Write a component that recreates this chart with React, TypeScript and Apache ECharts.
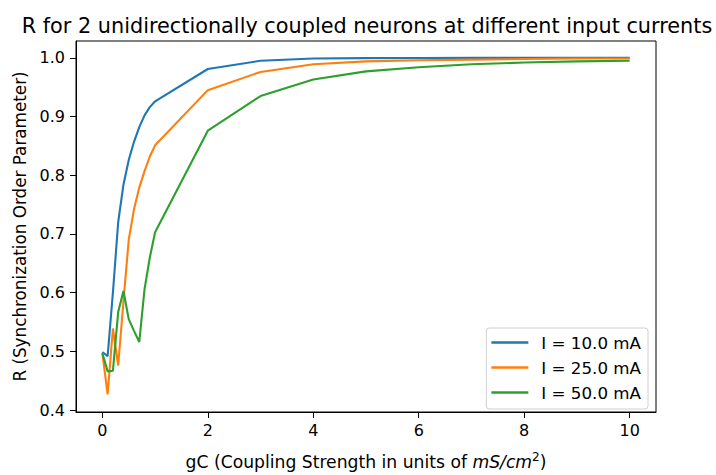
import React, { useEffect, useRef } from "react";
import * as echarts from "echarts";

const gC = [0, 0.1, 0.2, 0.3, 0.4, 0.5, 0.6, 0.7, 0.8, 0.9, 1.0, 2, 3, 4, 5, 6, 7, 8, 9, 10];
const r10 = [0.499, 0.492, 0.6, 0.72, 0.784, 0.826, 0.857, 0.882, 0.902, 0.916, 0.926, 0.981, 0.995, 0.999, 0.9995, 0.9998, 0.9999, 1.0, 1.0, 1.0];
const r25 = [0.497, 0.427, 0.539, 0.476, 0.585, 0.69, 0.742, 0.779, 0.807, 0.832, 0.851, 0.945, 0.976, 0.989, 0.994, 0.996, 0.997, 0.998, 0.999, 0.999];
const r50 = [0.497, 0.466, 0.467, 0.567, 0.603, 0.555, 0.535, 0.516, 0.606, 0.66, 0.703, 0.876, 0.935, 0.963, 0.977, 0.984, 0.989, 0.992, 0.994, 0.995];
const seriesNames = ["I = 10.0 mA", "I = 25.0 mA", "I = 50.0 mA"];
const colors = ["#1f77b4", "#ff7f0e", "#2ca02c"];
const xTicks = [0, 2, 4, 6, 8, 10];
const yTicks = [0.4, 0.5, 0.6, 0.7, 0.8, 0.9, 1.0];

const FONT = "DejaVu Sans";

export default function App() {
  const ref = useRef<HTMLDivElement>(null);
  useEffect(() => {
    if (!ref.current) return;
    const chart = echarts.init(ref.current, null, { renderer: "svg" });
    const seriesData = [r10, r25, r50];
    chart.setOption({
      animation: false,
      backgroundColor: "#ffffff",
      textStyle: { fontFamily: FONT, color: "#000" },
      title: {
        text: "R for 2 unidirectionally coupled neurons at different input currents",
        left: 362,
        textAlign: "center",
        top: 10,
        textStyle: { fontFamily: FONT, fontSize: 20.8, fontWeight: "normal", color: "#000" },
      },
      grid: {
        left: 76,
        right: 60,
        top: 41,
        bottom: 57,
        show: true,
        borderColor: "#000",
        borderWidth: 1,
        backgroundColor: "transparent",
      },
      legend: {
        orient: "vertical",
        right: 68,
        bottom: 66,
        data: seriesNames,
        icon: "rect",
        itemWidth: 37,
        itemHeight: 2.5,
        itemGap: 8,
        padding: [6, 7, 8, 5],
        backgroundColor: "rgba(255,255,255,0.8)",
        borderColor: "#d0d0d0",
        borderWidth: 1,
        borderRadius: 3,
        textStyle: { fontFamily: FONT, fontSize: 16.7, color: "#000", padding: [0, 0, 0, 8] },
      },
      xAxis: {
        type: "value",
        min: -0.5,
        max: 10.5,
        splitLine: { show: false },
        axisLine: { show: true, onZero: false, lineStyle: { color: "#000", width: 1 } },
        axisTick: { show: true, customValues: xTicks, length: 6, lineStyle: { color: "#000" } },
        axisLabel: {
          customValues: xTicks,
          fontFamily: FONT,
          fontSize: 16,
          color: "#000",
          margin: 10,
        },
        name: "gC (Coupling Strength in units of {i|mS/cm}{s|2})",
        nameLocation: "middle",
        nameGap: 39,
        nameTextStyle: {
          fontFamily: FONT,
          fontSize: 17.2,
          color: "#000",
          rich: {
            i: { fontFamily: FONT, fontSize: 17.2, fontStyle: "italic", color: "#000" },
            s: { fontFamily: FONT, fontSize: 12, color: "#000", verticalAlign: "top", padding: [0, 0, 9, 0] },
          },
        },
      },
      yAxis: {
        type: "value",
        min: 0.3968,
        max: 1.0287,
        splitLine: { show: false },
        axisLine: { show: true, onZero: false, lineStyle: { color: "#000", width: 1 } },
        axisTick: { show: true, customValues: yTicks, length: 6, lineStyle: { color: "#000" } },
        axisLabel: {
          customValues: yTicks,
          fontFamily: FONT,
          fontSize: 16,
          color: "#000",
          margin: 11,
          formatter: (v: number) => v.toFixed(1),
        },
        name: "R (Synchronization Order Parameter)",
        nameLocation: "middle",
        nameGap: 46,
        nameTextStyle: { fontFamily: FONT, fontSize: 16.8, color: "#000" },
      },
      series: seriesNames.map((name, i) => ({
        name,
        type: "line",
        data: gC.map((x, j) => [x, seriesData[i][j]]),
        showSymbol: false,
        symbol: "none",
        color: colors[i],
        lineStyle: { color: colors[i], width: 2.1 },
        z: 2 + i,
      })),
    });
    return () => chart.dispose();
  }, []);
  return <div ref={ref} style={{ width: 716, height: 475, position: "absolute", left: 0, top: 0 }} />;
}
